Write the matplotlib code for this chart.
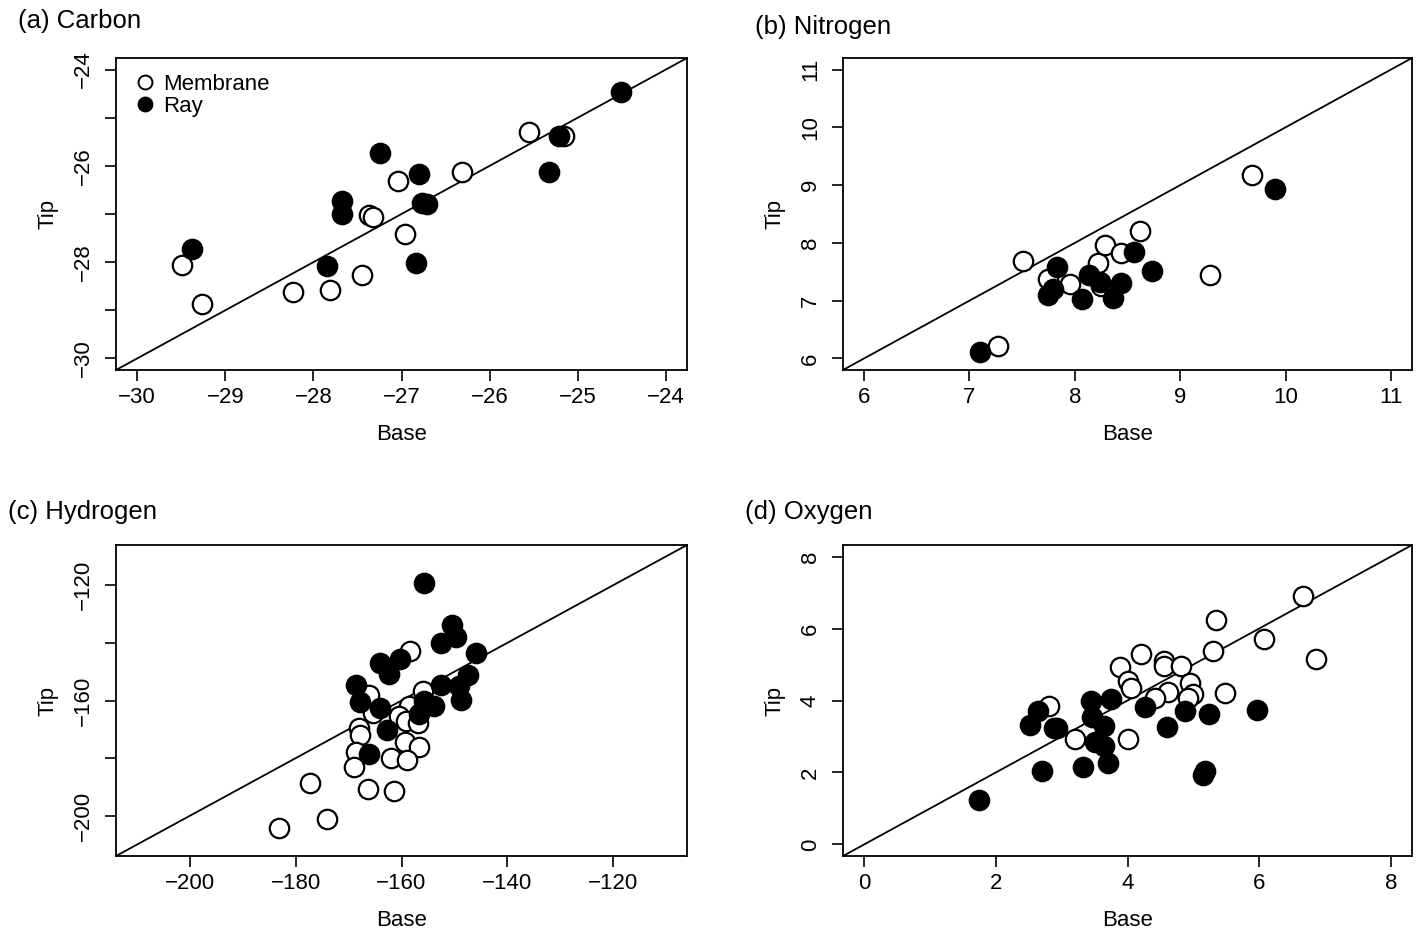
import matplotlib.pyplot as plt
from matplotlib.lines import Line2D

plt.rcParams['font.family'] = ['Liberation Sans', 'DejaVu Sans']

# (a) Carbon
c_mem_x = [-29.49, -29.26, -28.23, -27.81, -27.45, -27.37, -27.32, -27.04, -26.96, -26.31, -25.55, -25.16]
c_mem_y = [-28.06, -28.87, -28.63, -28.58, -28.26, -27.03, -27.06, -26.32, -27.42, -26.13, -25.30, -25.39]
c_ray_x = [-29.38, -27.84, -27.67, -27.68, -27.24, -26.80, -26.77, -26.71, -26.83, -25.33, -25.21, -24.51]
c_ray_y = [-27.72, -28.07, -26.73, -26.99, -25.73, -26.17, -26.78, -26.80, -28.01, -26.13, -25.39, -24.47]

# (b) Nitrogen
n_mem_x = [7.27, 7.51, 7.75, 7.95, 8.22, 8.29, 8.25, 8.44, 8.62, 9.28, 9.68]
n_mem_y = [6.21, 7.69, 7.38, 7.29, 7.65, 7.96, 7.25, 7.83, 8.21, 7.44, 9.17]
n_ray_x = [7.10, 7.75, 7.79, 7.83, 8.07, 8.13, 8.24, 8.36, 8.44, 8.56, 8.73, 9.90]
n_ray_y = [6.12, 7.09, 7.21, 7.58, 7.03, 7.45, 7.32, 7.05, 7.31, 7.85, 7.52, 8.93]

# (c) Hydrogen
h_mem_x = [-158.4, -166.1, -155.9, -158.6, -165.4, -160.5, -159.1, -156.8, -168.1, -167.9, -168.6,
           -159.3, -156.6, -161.9, -158.9, -169.0, -177.3, -166.4, -161.4, -174.0, -183.2]
h_mem_y = [-142.8, -158.2, -156.8, -161.8, -164.4, -165.3, -167.1, -167.7, -169.7, -172.0, -177.9,
           -174.4, -176.0, -179.9, -180.8, -183.2, -188.7, -190.9, -191.3, -201.1, -204.2]
h_ray_x = [-155.7, -150.4, -149.7, -152.5, -146.0, -164.0, -160.2, -162.3, -147.5, -152.6,
           -149.1, -168.6, -148.8, -167.9, -153.9, -164.0, -155.8, -156.7, -162.8, -166.2]
h_ray_y = [-119.1, -133.8, -137.8, -139.9, -143.4, -146.9, -145.7, -150.8, -151.3, -154.7,
           -155.1, -154.7, -159.8, -160.4, -161.8, -162.7, -160.1, -164.8, -170.3, -178.5]

# (d) Oxygen
o_mem_x = [6.66, 5.34, 6.08, 5.30, 6.86, 4.20, 4.55, 4.55, 4.81, 3.89, 4.01, 4.05, 4.95, 4.99,
           4.92, 4.61, 4.42, 5.48, 2.81, 3.20, 4.01]
o_mem_y = [6.89, 6.24, 5.71, 5.37, 5.14, 5.28, 5.09, 4.95, 4.95, 4.93, 4.53, 4.36, 4.48, 4.19,
           4.08, 4.25, 4.07, 4.22, 3.85, 2.93, 2.93]
o_ray_x = [1.75, 2.70, 3.33, 3.71, 5.17, 5.15, 2.64, 2.52, 2.88, 2.93, 3.45, 3.46, 3.64, 3.50,
           3.64, 3.75, 4.26, 4.60, 4.88, 5.23, 5.97]
o_ray_y = [1.24, 2.04, 2.15, 2.27, 2.03, 1.92, 3.72, 3.32, 3.24, 3.23, 3.99, 3.55, 3.29, 2.85,
           2.74, 4.05, 3.81, 3.25, 3.71, 3.63, 3.74]

W, H = 1421, 934
fig = plt.figure(figsize=(W / 100, H / 100), dpi=100)


def make_ax(l, t, r, b):
    return fig.add_axes([l / W, 1 - b / H, (r - l) / W, (b - t) / H])


panels = [
    dict(box=(116, 58, 687, 370), lim=(-30.24, -23.76), xt=range(-30, -23), yt=range(-30, -23),
         ylab=[-30, -28, -26, -24], mem=(c_mem_x, c_mem_y), ray=(c_ray_x, c_ray_y),
         title='(a) Carbon', tpos=(18, 21)),
    dict(box=(843, 58, 1412, 370), lim=(5.8, 11.2), xt=range(6, 12), yt=range(6, 12),
         ylab=list(range(6, 12)), mem=(n_mem_x, n_mem_y), ray=(n_ray_x, n_ray_y),
         title='(b) Nitrogen', tpos=(755, 27)),
    dict(box=(116, 545, 687, 856), lim=(-214, -106), xt=range(-200, -119, 20), yt=range(-200, -119, 20),
         ylab=[-200, -160, -120], mem=(h_mem_x, h_mem_y), ray=(h_ray_x, h_ray_y),
         title='(c) Hydrogen', tpos=(8, 512)),
    dict(box=(843, 545, 1412, 856), lim=(-0.32, 8.32), xt=range(0, 9, 2), yt=range(0, 9, 2),
         ylab=[0, 2, 4, 6, 8], mem=(o_mem_x, o_mem_y), ray=(o_ray_x, o_ray_y),
         title='(d) Oxygen', tpos=(745, 512)),
]

for i, p in enumerate(panels):
    ax = make_ax(*p['box'])
    lo, hi = p['lim']
    ax.plot([lo, hi], [lo, hi], color='black', lw=1.3, zorder=1)
    ax.plot(p['mem'][0], p['mem'][1], 'o', ms=14, mfc='white', mec='black', mew=1.6, ls='none', zorder=2)
    ax.plot(p['ray'][0], p['ray'][1], 'o', ms=14, mfc='black', mec='black', mew=1.6, ls='none', zorder=3)
    ax.set_xlim(lo, hi)
    ax.set_ylim(lo, hi)
    ax.set_xticks(list(p['xt']))
    ax.set_yticks(list(p['yt']))
    ax.set_xticklabels([str(v).replace('-', '\u2212') for v in p['xt']])
    ax.set_yticklabels([str(v).replace('-', '\u2212') if v in p['ylab'] else '' for v in p['yt']],
                       rotation=90, va='center')
    ax.tick_params(direction='out', length=8, width=1.2, labelsize=16)
    ax.tick_params(axis='x', pad=4)
    ax.tick_params(axis='y', pad=8)
    for s in ax.spines.values():
        s.set_linewidth(1.3)
    ax.set_xlabel('Base', fontsize=16, labelpad=12)
    ax.set_ylabel('Tip', fontsize=16, labelpad=10)
    fig.text(p['tpos'][0] / W, 1 - p['tpos'][1] / H, p['title'], fontsize=18.5, ha='left', va='center')
    if i == 0:
        handles = [Line2D([], [], marker='o', ls='none', ms=10, mfc='white', mec='black', mew=1.4),
                   Line2D([], [], marker='o', ls='none', ms=10, mfc='black', mec='black', mew=1.4)]
        ax.legend(handles, ['Membrane', 'Ray'], loc='upper left', frameon=False, fontsize=16,
                  handletextpad=0.2, labelspacing=0.05, borderaxespad=0.3, handlelength=1.2)

fig.savefig('out.png', dpi=100)
